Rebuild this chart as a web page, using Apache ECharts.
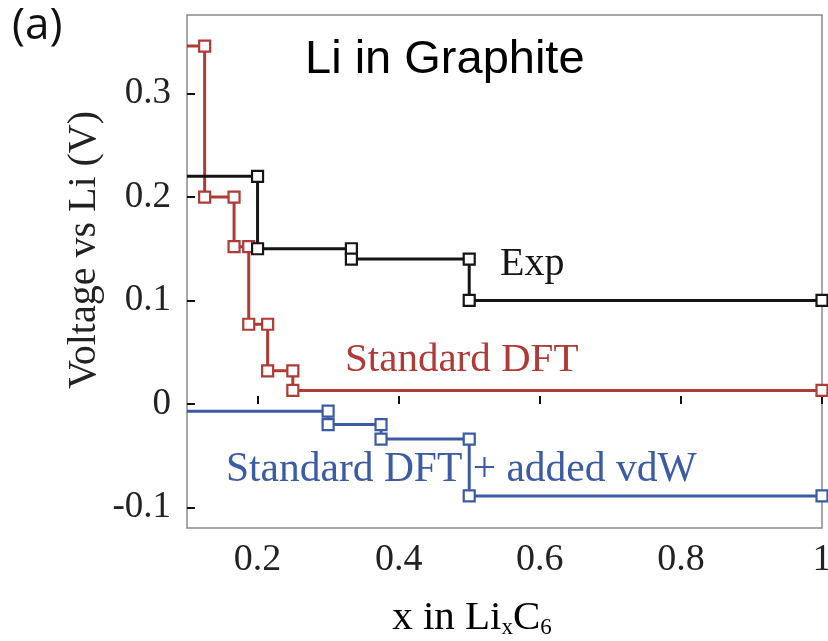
<!DOCTYPE html>
<html>
<head>
<meta charset="utf-8">
<script src="https://cdn.jsdelivr.net/npm/echarts@6/dist/echarts.min.js"></script>
<style>
html,body{margin:0;padding:0;background:#fff;}
#chart{width:828px;height:641px;}
</style>
</head>
<body>
<div id="chart"></div>
<script>
// ---- data ----
const xExp = [0.1, 0.2, 0.2, 0.333, 0.333, 0.5, 0.5, 1.0];
const yExp = [0.22, 0.22, 0.15, 0.15, 0.14, 0.14, 0.10, 0.10];
const xDFT = [0.1, 0.125, 0.125, 0.1667, 0.1667, 0.1875, 0.1875, 0.2143, 0.2143, 0.25, 0.25, 1.0];
const yDFT = [0.346, 0.346, 0.200, 0.200, 0.152, 0.152, 0.077, 0.077, 0.032, 0.032, 0.013, 0.013];
const xVdw = [0.1, 0.3, 0.3, 0.375, 0.375, 0.5, 0.5, 1.0];
const yVdw = [-0.007, -0.007, -0.020, -0.020, -0.034, -0.034, -0.089, -0.089];
const xTicks = [0.2, 0.4, 0.6, 0.8, 1.0];
const yTicks = [-0.1, 0, 0.1, 0.2, 0.3];
const seriesNames = ['Exp', 'Standard DFT', 'Standard DFT + added vdW'];
const titleText = 'Li in Graphite';
const panelText = '(a)';
const yTitle = 'Voltage vs Li (V)';

const cBlack = '#151515', cRed = '#b03a35', cBlue = '#3b5ba5';

function build(xs, ys) {
  // first point sits on the left frame edge: no marker there
  return xs.map((x, i) => i === 0 ? { value: [x, ys[i]], symbol: 'none' } : [x, ys[i]]);
}
function lineSeries(name, xs, ys, color) {
  return {
    name: name, type: 'line', data: build(xs, ys),
    symbol: 'rect', symbolSize: 11, showAllSymbol: true,
    lineStyle: { color: color, width: 3 },
    itemStyle: { color: '#fff', borderColor: color, borderWidth: 2.2 },
    clip: true, animation: false, z: 3
  };
}
const serif = 'Liberation Serif';
const fmt = v => (Math.abs(v) < 1e-9 ? '0' : String(+v.toFixed(2)));

const chart = echarts.init(document.getElementById('chart'), null, { renderer: 'canvas' });
chart.setOption({
  animation: false,
  backgroundColor: '#fff',
  grid: { left: 187, right: 6, top: 15, bottom: 113, containLabel: false, outerBoundsMode: 'none',
          show: true, borderColor: '#8a8a8a', borderWidth: 1.5, backgroundColor: 'transparent' },
  xAxis: {
    type: 'value', min: 0.1, max: 1.0,
    axisLine: { show: false },
    splitLine: { show: false },
    axisTick: { show: true, inside: true, length: 8, customValues: xTicks, lineStyle: { color: '#111', width: 2 } },
    axisLabel: { customValues: xTicks, formatter: fmt, margin: 13, fontFamily: serif, fontSize: 38, color: '#222' }
  },
  yAxis: {
    type: 'value', min: -0.12, max: 0.376,
    axisLine: { show: false },
    splitLine: { show: false },
    axisTick: { show: true, inside: true, length: 8, customValues: yTicks, lineStyle: { color: '#111', width: 2 } },
    axisLabel: { customValues: yTicks, formatter: fmt, margin: 16, fontFamily: serif, fontSize: 37, color: '#222' }
  },
  series: [
    lineSeries(seriesNames[2], xVdw, yVdw, cBlue),
    lineSeries(seriesNames[1], xDFT, yDFT, cRed),
    lineSeries(seriesNames[0], xExp, yExp, cBlack)
  ],
  graphic: [
    { type: 'text', left: 12, top: 4, style: { text: panelText, font: '44px "Open Sans"', fill: '#111' } },
    { type: 'text', x: 305, y: 60, style: { text: titleText, font: '47px "Liberation Sans"', fill: '#000', align: 'left', verticalAlign: 'middle' } },
    { type: 'text', x: 500, y: 264.5, style: { text: seriesNames[0], font: '40px "Liberation Serif"', fill: cBlack, align: 'left', verticalAlign: 'middle' } },
    { type: 'text', x: 345, y: 360, style: { text: seriesNames[1], font: '41px "Liberation Serif"', fill: cRed, align: 'left', verticalAlign: 'middle' } },
    { type: 'text', x: 226, y: 470, style: { text: seriesNames[2], font: '41.5px "Liberation Serif"', fill: cBlue, align: 'left', verticalAlign: 'middle' } },
    { type: 'text', x: 84, y: 250, rotation: Math.PI / 2, style: { text: yTitle, font: '40px "Liberation Serif"', fill: '#222', align: 'center', verticalAlign: 'middle' } },
    { type: 'text', x: 472, y: 617, style: {
        text: '{m|x in Li}{s|x}{m|C}{s|6}', align: 'center', verticalAlign: 'middle',
        rich: {
          m: { fontFamily: serif, fontSize: 41, color: '#222', verticalAlign: 'bottom', lineHeight: 44 },
          s: { fontFamily: serif, fontSize: 23, color: '#222', verticalAlign: 'bottom', lineHeight: 38 }
        } } }
  ]
});
</script>
</body>
</html>
